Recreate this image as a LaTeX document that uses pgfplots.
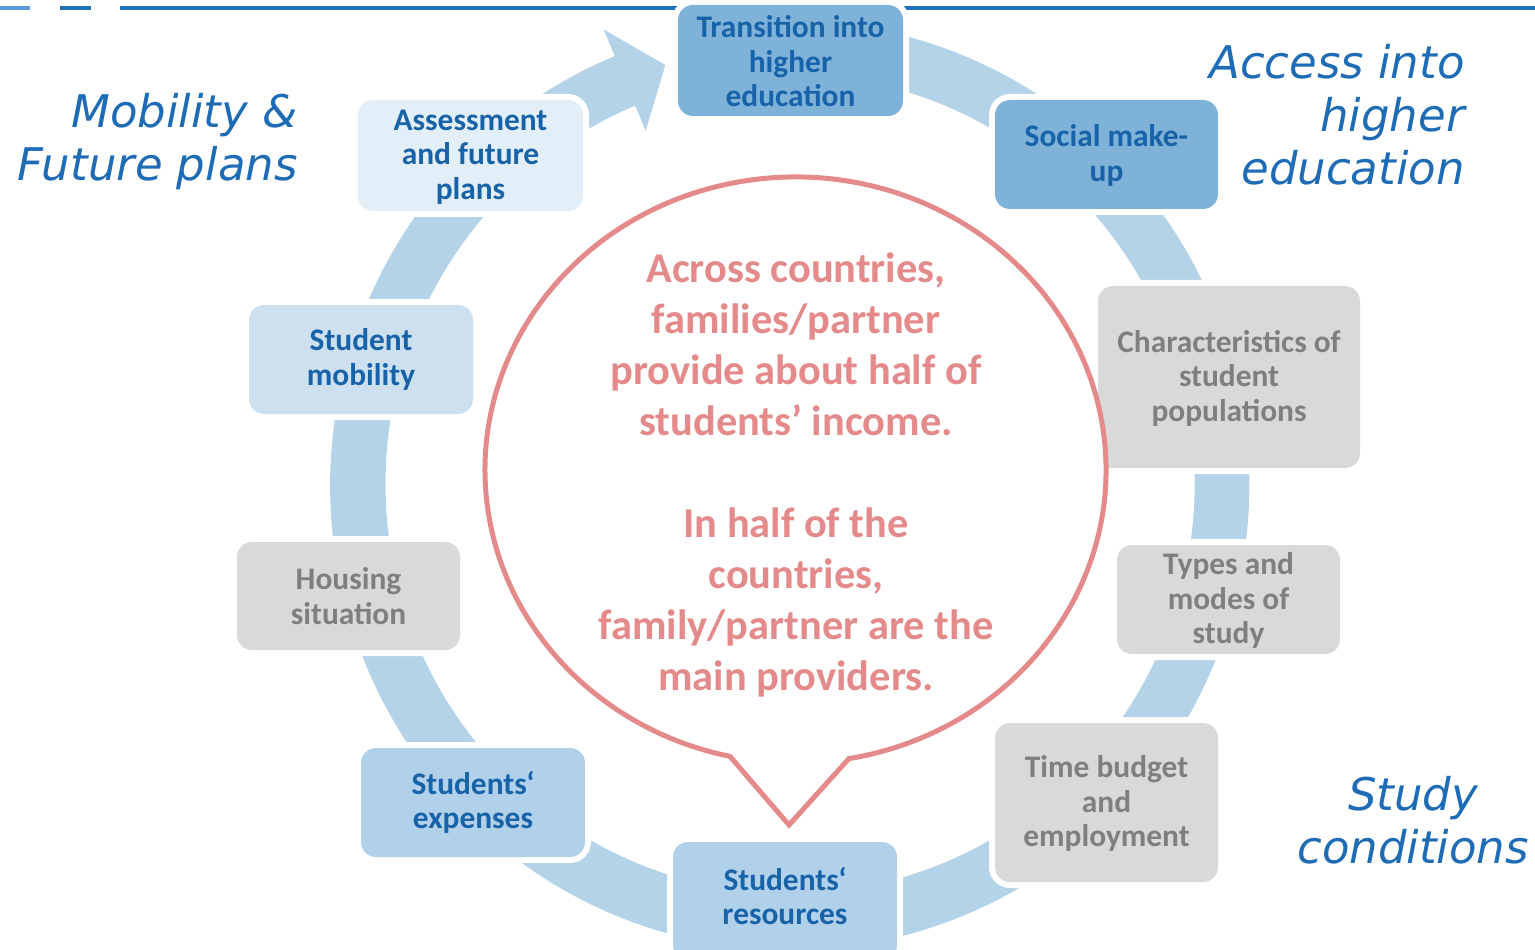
\documentclass[border=0pt]{standalone}
\usepackage{pgfplots}
\pgfplotsset{compat=1.18}
\usepackage{fontspec}
\setmainfont{Carlito}
\newfontfamily\headfont{DejaVu Sans}[ItalicFont={DejaVu Sans Oblique}]
\definecolor{ringc}{HTML}{B4D3E8}
\definecolor{boxdark}{HTML}{7FB2D9}
\definecolor{boxmid}{HTML}{B1D1EA}
\definecolor{boxlight}{HTML}{CCE0F0}
\definecolor{boxpale}{HTML}{E3EFF8}
\definecolor{boxgray}{HTML}{D9D9D9}
\definecolor{txtblue}{HTML}{1862A8}
\definecolor{txtgray}{HTML}{7F7F7F}
\definecolor{headblue}{HTML}{1E6CB6}
\definecolor{bubblec}{HTML}{E48A8A}
\definecolor{linedark}{HTML}{1F6FBA}
\definecolor{linelight}{HTML}{5B9BD5}
% box: x1 y1 x2 y2 (axis units = pixels, y up), fill colour
\newcommand{\diabox}[5]{%
  \fill[white,rounded corners=10.5pt] (axis cs:#1-6,#2-6) rectangle (axis cs:#3+6,#4+6);
  \fill[#5,rounded corners=7.5pt] (axis cs:#1,#2) rectangle (axis cs:#3,#4);
}
\begin{document}
\begin{tikzpicture}
\begin{axis}[name=ax, x=0.5pt, y=0.5pt, xmin=0, xmax=1535, ymin=0, ymax=949,
  hide axis, clip=false]
\addplot[draw=none] coordinates {(0,0) (1535,949)};
% top rule
\fill[linelight] (axis cs:0,939) rectangle (axis cs:30,943);
\fill[linedark] (axis cs:60,939) rectangle (axis cs:91,943);
\fill[linedark] (axis cs:120,939) rectangle (axis cs:1535,943);
% ring
\fill[ringc] (axis cs:617.6,894.1) arc[start angle=112,end angle=460,x radius=229.75pt,y radius=232.25pt]
  -- (axis cs:719.8,868.3) arc[start angle=460,end angle=112,x radius=202.25pt,y radius=204.75pt] -- cycle;
% arrow head
\fill[ringc] (axis cs:603.6,919.6) -- (axis cs:665.3,884) -- (axis cs:645.7,817.9) -- cycle;
% boxes
\diabox{678}{833}{903}{944}{boxdark}
\diabox{995}{740}{1218}{849}{boxdark}
\diabox{1098}{481}{1360}{663}{boxgray}
\diabox{1117}{295}{1340}{404}{boxgray}
\diabox{995}{67}{1218}{226}{boxgray}
\diabox{673}{-11}{897}{107}{boxmid}
\diabox{361}{92}{585}{201}{boxmid}
\diabox{237}{299}{460}{407}{boxgray}
\diabox{249}{535}{473}{644}{boxlight}
\diabox{358}{738}{583}{849}{boxpale}
\begin{scope}[every node/.style={font=\bfseries\fontsize{15.7pt}{17.25pt}\selectfont, align=center, inner sep=0pt}]
\node[text=txtblue] at (axis cs:790.5,887.5) {Transition into\\higher\\education};
\node[text=txtblue] at (axis cs:1106.5,793.5) {Social make-\\up};
\node[text=txtgray] at (axis cs:1229,571) {Characteristics of\\student\\populations};
\node[text=txtgray] at (axis cs:1228.5,348.5) {Types and\\modes of\\study};
\node[text=txtgray] at (axis cs:1106.5,145.5) {Time budget\\and\\employment};
\node[text=txtblue] at (axis cs:785,53) {Students‘\\resources};
\node[text=txtblue] at (axis cs:473,146.5) {Students‘\\expenses};
\node[text=txtgray] at (axis cs:348.5,353) {Housing\\situation};
\node[text=txtblue] at (axis cs:361,589.5) {Student\\mobility};
\node[text=txtblue] at (axis cs:470.5,792) {Assessment\\and future\\plans};
\end{scope}
% speech bubble
\filldraw[fill=white, draw=bubblec, line width=2.5pt, line join=miter]
  (axis cs:848.9,190.4) arc[start angle=-80.1,end angle=257.8,x radius=155.25pt,y radius=146.5pt]
  -- (axis cs:789,124) -- cycle;
\node[text=bubblec, font=\bfseries\fontsize{21.2pt}{25.5pt}\selectfont, align=center, inner sep=0pt]
  at (axis cs:796,474) {Across countries,\\families/partner\\provide about half of\\students’ income.\\[25.5pt]In half of the\\countries,\\family/partner are the\\main providers.};
% headings
\begin{scope}[every node/.style={text=headblue, font=\headfont\itshape\fontsize{22.5pt}{26.5pt}\selectfont, inner sep=0pt}]
\node[anchor=east, align=right] at (axis cs:298,807) {Mobility \&\\Future plans};
\node[anchor=east, align=right] at (axis cs:1465,834) {Access into\\higher\\education};
\node[align=center] at (axis cs:1413,128.5) {Study\\conditions};
\end{scope}
\end{axis}
\pgfresetboundingbox
\path (ax.south west) rectangle (ax.north east);
\end{tikzpicture}
\end{document}
